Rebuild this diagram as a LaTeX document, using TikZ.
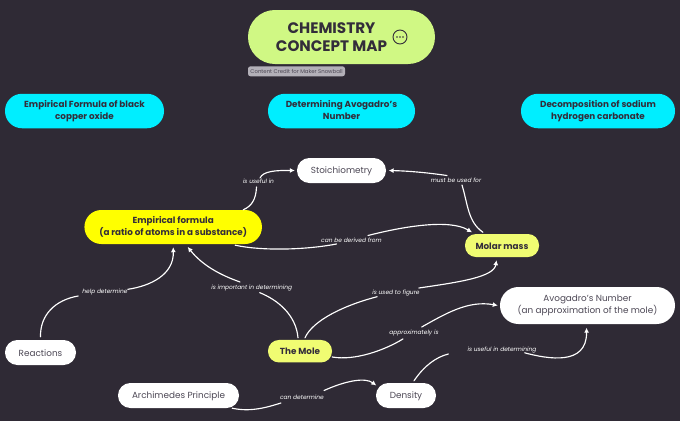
\documentclass[tikz,border=0pt]{standalone}
\usepackage{fontspec}
\setmainfont{Poppins}
\usetikzlibrary{arrows.meta,calc}
\definecolor{bgc}{HTML}{2F2A35}
\definecolor{ink}{HTML}{332D3A}
\definecolor{soft}{HTML}{4D4855}
\definecolor{titlec}{HTML}{D0F884}
\definecolor{cyanc}{HTML}{00EEFF}
\definecolor{yellowc}{HTML}{FFFF00}
\definecolor{lemon}{HTML}{F0FC72}
\definecolor{creditc}{HTML}{B3B0B8}
\newcommand{\fsz}[2]{\fontsize{#1}{#2}\selectfont}
\newcommand{\uprule}{\rule[-2pt]{0pt}{11pt}}
\tikzset{
  box/.style={align=center,inner sep=0pt,rounded corners=12.4pt,text=soft,font=\fsz{8.85}{12.4},execute at begin node=\uprule,execute at end node=\uprule},
  whitebox/.style={box,fill=white},
  headbox/.style={box,fill=cyanc,text=ink,font=\fsz{8.8}{11.8}\bfseries,rounded corners=17pt},
  lemonbox/.style={box,fill=lemon,text=ink,font=\fsz{8.8}{11}\bfseries,rounded corners=11pt},
  lab/.style={text=white,inner sep=0pt,font=\fsz{5.9}{7}\itshape},
  conn/.style={draw=white,line width=1.15pt,line cap=round},
  arr/.style={conn,-{Latex[length=5pt,width=5pt]}},
}
\begin{document}
\begin{tikzpicture}[x=1pt,y=-1pt]
\useasboundingbox[fill=bgc] (0,0) rectangle (680,421);
% title
\node[draw=none,fill=titlec,minimum width=187pt,minimum height=54pt,rounded corners=26.9pt] (title) at (341.5,37) {};
\node[text=ink,align=center,inner sep=0pt,font=\fsz{15.2}{18}\bfseries] (titletext) at (331.5,37.5) {CHEMISTRY\\CONCEPT MAP};
\node[circle,draw=ink,line width=0.9pt,minimum size=14pt,inner sep=0pt] (more) at (400,37) {};
\fill[ink] (more.center) circle (0.9pt) ($(more.center)+(-3,0)$) circle (0.9pt) ($(more.center)+(3,0)$) circle (0.9pt);
\node[fill=creditc,inner sep=0pt,align=center,minimum width=97pt,minimum height=10pt,rounded corners=2.5pt,text=soft,font=\fsz{5.4}{6}] (credit) at (296.5,71.3) {Content Credit for Maker Snowball};
% headings
\node[headbox,minimum width=159pt,minimum height=34.5pt] (h1) at (84.5,111) {Empirical Formula of black\\copper oxide};
\node[headbox,minimum width=147pt,minimum height=34.5pt] (h2) at (341.5,111) {Determining Avogadro's\\Number};
\node[headbox,minimum width=154pt,minimum height=34.5pt] (h3) at (598,111) {Decomposition of sodium\\hydrogen carbonate};
% concepts
\node[whitebox,minimum width=89pt,minimum height=25pt] (stoich) at (341.5,170.5) {Stoichiometry};
\node[box,fill=yellowc,text=ink,font=\fsz{8.8}{11.8}\bfseries,minimum width=177.5pt,minimum height=34pt,rounded corners=16.9pt] (emp) at (173.2,227) {Empirical formula\\(a ratio of atoms in a substance)};
\node[lemonbox,minimum width=74pt,minimum height=23pt] (molar) at (502,245.5) {Molar mass};
\node[whitebox,minimum width=71pt,minimum height=25pt] (react) at (40.5,352.5) {Reactions};
\node[lemonbox,minimum width=64pt,minimum height=22.5pt] (mole) at (300,351.2) {The Mole};
\node[whitebox,minimum width=175pt,minimum height=37pt,rounded corners=18.4pt] (avo) at (587.5,305.5) {Avogadro's Number\\(an approximation of the mole)};
\node[whitebox,minimum width=121pt,minimum height=25pt] (arch) at (178.5,395.5) {Archimedes Principle};
\node[whitebox,minimum width=60pt,minimum height=25pt] (dens) at (406,395.5) {Density};
% labels
\node[lab] (l1) at (258.5,181.5) {is useful in};
\node[lab] (l2) at (351.5,240) {can be derived from};
\node[lab] (l3) at (456,180) {must be used for};
\node[lab] (l4) at (105,292.3) {help determine};
\node[lab] (l5) at (251.7,287.7) {is important in determining};
\node[lab] (l6) at (396,293.3) {is used to figure};
\node[lab] (l7) at (414,333.2) {approximately is};
\node[lab] (l8) at (302,396.8) {can determine};
\node[lab] (l9) at (502,350.3) {is useful in determining};
% connectors (shifts are unitless, so y points down)
\draw[conn] ([shift={(70,0)}]emp.north) .. controls (252,206) and (256,199) .. ([shift={(-2,3)}]l1.south);
\draw[arr] ([shift={(1.5,-1)}]l1.north) .. controls (263,171) and (276,170.3) .. ([shift={(-2,0)}]stoich.west);
\draw[conn] ([shift={(62,1)}]emp.south) .. controls (262,251) and (305,250) .. ([shift={(-15,1.5)}]l2.south);
\draw[arr] ([shift={(16.5,-2)}]l2.north) .. controls (405,226) and (450,219) .. ([shift={(-30,-1.5)}]molar.north);
\draw[conn] ([shift={(-19,-1.5)}]molar.north) .. controls (468,222) and (468,205) .. ([shift={(6,2.5)}]l3.south);
\draw[arr] ([shift={(-9,-2)}]l3.north) .. controls (430,173) and (410,171) .. ([shift={(2.5,0)}]stoich.east);
\draw[conn] ([shift={(0,-3)}]react.north) .. controls (40,315) and (55,300) .. ([shift={(-4,3.7)}]l4.west);
\draw[arr] ([shift={(0,-3)}]l4.east) .. controls (150,286) and (174,275) .. ([shift={(0,3)}]emp.south);
\draw[conn] ([shift={(-2,-2)}]mole.north) .. controls (296,315) and (278,300) .. ([shift={(8,1.7)}]l5.south);
\draw[arr] ([shift={(-11.7,-2.5)}]l5.north) .. controls (220,275) and (202,265) .. ([shift={(14.5,2.7)}]emp.south);
\draw[conn] ([shift={(5,-2)}]mole.north) .. controls (313,320) and (345,305) .. ([shift={(5,3.4)}]l6.west);
\draw[arr] ([shift={(-1,-5.3)}]l6.east) .. controls (460,282) and (494,277) .. ([shift={(-5.5,3)}]molar.south);
\draw[conn] ([shift={(0,5.8)}]mole.east) .. controls (355,361) and (385,350) .. ([shift={(-11,2.5)}]l7.south);
\draw[arr] ([shift={(7.7,-3)}]l7.north) .. controls (445,314) and (468,300) .. ([shift={(-2,0)}]avo.west);
\draw[conn] ([shift={(-7,0)}]arch.south east) .. controls (250,412) and (265,408) .. ([shift={(1,6.2)}]l8.west);
\draw[arr] ([shift={(0,-6.3)}]l8.east) .. controls (345,381) and (365,377) .. ([shift={(0.5,-10)}]dens.west);
\draw[conn] ([shift={(8,-2)}]dens.north) .. controls (424,366) and (436,357) .. ([shift={(-19,3.7)}]l9.west);
\draw[arr] ([shift={(-12,2.5)}]l9.east) .. controls (548,359) and (587,366) .. ([shift={(-1,3.5)}]avo.south);
\end{tikzpicture}
\end{document}
